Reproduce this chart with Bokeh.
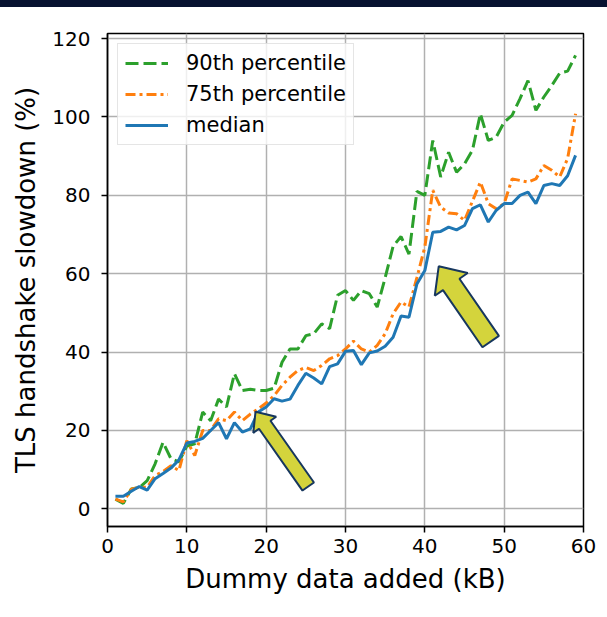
from bokeh.plotting import figure
from bokeh.models import Range1d, FixedTicker, Legend, LegendItem, ColumnDataSource, Div
from bokeh.layouts import column
from bokeh.embed import file_html
from bokeh.resources import INLINE

# ---- data ----
dummy_kb = list(range(1, 60))
p90 = [2.5, 1.4, 5.1, 5.4, 7.2, 11.5, 17.0, 12.8, 12.0, 16.0,
       16.6, 24.7, 22.5, 28.0, 26.0, 34.5, 30.2, 30.5, 30.2, 30.2,
       30.8, 37.4, 40.8, 40.8, 44.2, 44.7, 47.2, 46.0, 54.5, 55.7,
       53.2, 55.7, 54.9, 51.5, 59.0, 67.0, 69.5, 65.0, 81.0, 80.0,
       94.0, 84.7, 91.0, 85.9, 88.0, 91.5, 100.8, 94.0, 94.9, 98.7,
       100.4, 104.7, 109.3, 101.7, 105.1, 108.0, 111.2, 111.7, 115.7]
p75 = [2.5, 1.8, 5.0, 5.5, 5.5, 8.5, 9.5, 11.0, 9.8, 17.4,
       13.6, 20.0, 20.0, 23.0, 22.5, 24.7, 22.5, 24.2, 25.5, 27.0,
       28.9, 31.5, 33.6, 35.3, 36.1, 35.3, 36.6, 38.3, 39.1, 40.8,
       42.8, 40.8, 40.0, 41.7, 44.7, 49.8, 52.8, 51.5, 59.0, 66.8,
       81.3, 77.0, 75.5, 75.3, 73.6, 78.5, 83.4, 77.9, 76.6, 77.9,
       84.2, 83.8, 83.4, 84.2, 87.6, 86.4, 84.7, 89.4, 100.8]
median = [3.2, 3.2, 4.5, 5.7, 4.8, 7.7, 9.0, 10.4, 12.5, 16.8,
          17.2, 18.0, 20.0, 22.0, 17.9, 22.0, 19.6, 20.4, 24.7, 26.0,
          28.1, 27.5, 28.0, 31.5, 34.6, 33.4, 31.9, 36.3, 37.0, 40.2,
          40.4, 36.8, 39.8, 40.3, 41.5, 43.8, 49.2, 48.9, 57.4, 60.8,
          70.6, 70.8, 71.9, 71.2, 72.3, 76.6, 77.6, 73.2, 76.2, 77.9,
          77.9, 80.0, 80.8, 77.9, 82.5, 83.0, 82.5, 85.0, 90.2]
x_ticks = [0, 10, 20, 30, 40, 50, 60]
y_ticks = [0, 20, 40, 60, 80, 100, 120]

# annotation arrows: (tail, tip) in data units
arrow_tail_tip = [((25.3, 5.7), (18.66, 24.8)), ((48.3, 42.7), (41.75, 61.9))]
arrow_sizes = [(14, 28, 16), (20, 40, 22)]  # shaft width, head width, head length (px)

# ---- figure ----
FW, FH = 476, 493
X0, X1 = 0, 60
Y0, Y1 = -4.5, 121.3

p = figure(frame_width=FW, frame_height=FH,
           x_range=Range1d(X0, X1), y_range=Range1d(Y0, Y1),
           output_backend="svg", toolbar_location=None,
           min_border_left=107, min_border_right=15,
           min_border_top=26, min_border_bottom=82,
           background_fill_color="white", border_fill_color="white")

p.outline_line_color = "black"
p.outline_line_width = 1.5
p.grid.grid_line_color = "#b0b0b0"
p.grid.grid_line_width = 1.5

p.xaxis.ticker = FixedTicker(ticks=x_ticks)
p.yaxis.ticker = FixedTicker(ticks=y_ticks)
for ax in (p.xaxis, p.yaxis):
    ax.axis_line_color = "black"
    ax.axis_line_width = 1.5
    ax.major_tick_in = 0
    ax.major_tick_out = 6
    ax.major_tick_line_width = 1.5
    ax.minor_tick_line_color = None
    ax.major_label_text_font = "DejaVu Sans"
    ax.major_label_text_font_size = "20px"
    ax.major_label_text_color = "black"
    ax.axis_label_text_font = "DejaVu Sans"
    ax.axis_label_text_font_size = "26px"
    ax.axis_label_text_font_style = "normal"
    ax.axis_label_text_color = "black"
    ax.axis_label_standoff = 8
p.xaxis.major_label_standoff = 6
p.yaxis.major_label_standoff = 11
p.xaxis.axis_label = "Dummy data added (kB)"
p.yaxis.axis_label = "TLS handshake slowdown (%)"

src = ColumnDataSource(dict(x=dummy_kb, p90=p90, p75=p75, med=median))
r90 = p.line("x", "p90", source=src, line_color="#2ca02c", line_width=3, line_dash="13 5")
r75 = p.line("x", "p75", source=src, line_color="#ff7f0e", line_width=3, line_dash="10 4 3 4")
rmed = p.line("x", "med", source=src, line_color="#1f77b4", line_width=3)

# arrows built in screen space, converted to data units
sx = FW / (X1 - X0)
sy = FH / (Y1 - Y0)
for (tail, tip), (sw, hw, hl) in zip(arrow_tail_tip, arrow_sizes):
    tx, ty = tail[0] * sx, tail[1] * sy
    px_, py_ = tip[0] * sx, tip[1] * sy
    dx, dy = px_ - tx, py_ - ty
    L = (dx * dx + dy * dy) ** 0.5
    ux, uy = dx / L, dy / L
    nx, ny = -uy, ux
    bx, by = px_ - ux * hl, py_ - uy * hl
    pts = [(tx + nx * sw / 2, ty + ny * sw / 2),
           (bx + nx * sw / 2, by + ny * sw / 2),
           (bx + nx * hw / 2, by + ny * hw / 2),
           (px_, py_),
           (bx - nx * hw / 2, by - ny * hw / 2),
           (bx - nx * sw / 2, by - ny * sw / 2),
           (tx - nx * sw / 2, ty - ny * sw / 2)]
    p.patch([a / sx for a, b in pts], [b / sy for a, b in pts],
            fill_color="#d4d43c", line_color="#17375e", line_width=2)

legend = Legend(items=[LegendItem(label="90th percentile", renderers=[r90]),
                       LegendItem(label="75th percentile", renderers=[r75]),
                       LegendItem(label="median", renderers=[rmed])],
                location="top_left", margin=10, padding=7, spacing=7,
                label_text_font="DejaVu Sans", label_text_font_size="21px",
                label_text_color="black",
                glyph_width=43, glyph_height=24, label_height=24, label_standoff=18,
                border_line_color="#cccccc", border_line_width=1.5,
                background_fill_color="white", background_fill_alpha=0.8)
p.add_layout(legend)

top_bar = Div(text="", width=607, height=7, margin=0,
              styles={"background-color": "#071230"})
page = column(top_bar, p, spacing=0)

open("out.html", "w").write(file_html(page, INLINE))
